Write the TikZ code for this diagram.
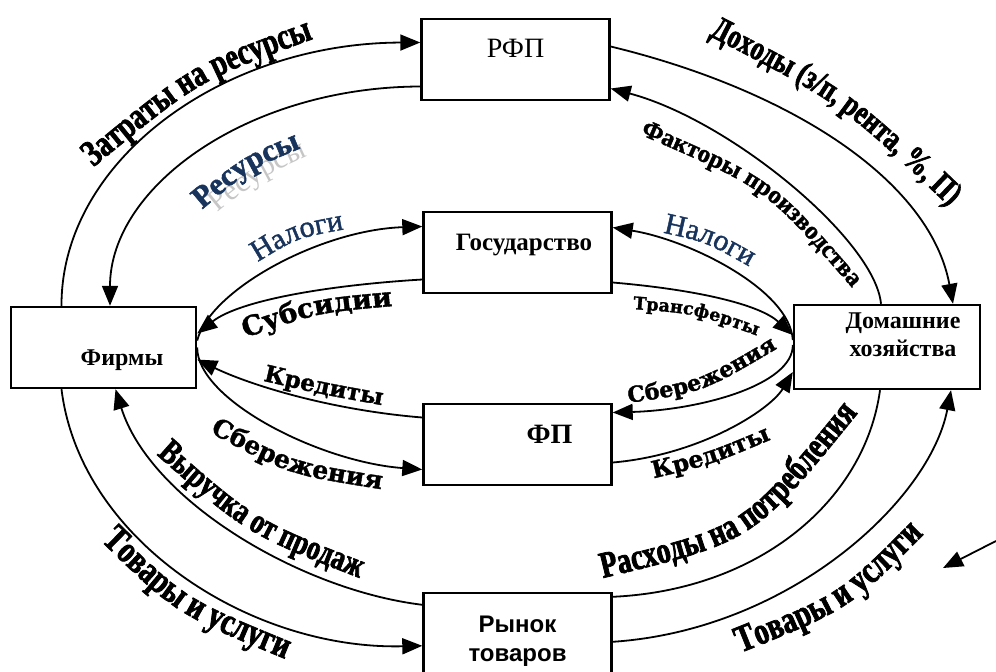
\documentclass[tikz,border=0pt]{standalone}
\usepackage{fontspec}
\setmainfont{Liberation Serif}
\newfontfamily\wafont[FakeStretch=0.76,BoldFeatures={FakeBold=2}]{Liberation Serif}
\newfontfamily\wcfont[BoldFeatures={FakeBold=1.6}]{Liberation Serif}
\newfontfamily\wnfont[FakeBold=1.4]{Liberation Serif}
\newfontfamily\wbfont[BoldFeatures={FakeBold=1.4}]{DejaVu Serif}
\newfontfamily\arialfont{Liberation Sans}
\usetikzlibrary{arrows.meta,calc,decorations.text}
\definecolor{navy}{RGB}{24,52,92}
% curved label: [colour]{start}{control}{end}{text}{font}
\newcommand{\wordart}[6][black]{{#6\path[decorate,decoration={text along path,text align=center,text color=#1,text={#5}}]
  ($(#2)!-30pt!(#3)$) -- (#2) .. controls (#3) .. (#4) -- ($(#4)!-30pt!(#3)$);}}

\begin{document}
\begin{tikzpicture}[x=1pt,y=-1pt,
  box/.style={draw,line width=2.4pt,inner sep=0pt,minimum width=188pt,minimum height=81pt},
  flow/.style={line width=1.8pt,-{Triangle[length=20pt,width=16pt]}},
  plain/.style={line width=1.8pt}]
\fill[white] (0,0) rectangle (996,672);
\useasboundingbox (0,0) rectangle (996,672);

% boxes
\node[box,font=\fontsize{28}{28}\selectfont,text height=20pt,text depth=25pt] (rfp) at (515.5,59.5) {РФП};
\node[box,font=\bfseries\fontsize{25}{25}\selectfont,text height=20pt,text depth=25pt] (gos) at (517.5,252.5) {\hspace*{13pt}Государство};
\node[box,minimum width=185pt,font=\bfseries\fontsize{24}{24}\selectfont,text height=40pt,text depth=5pt] (fir) at (103.5,347.5) {\hspace*{37pt}Фирмы};
\node[box,minimum width=186pt,minimum height=84pt,font=\bfseries\fontsize{24}{28}\selectfont,text height=30pt,text depth=38pt] (dh) at (887,347)
  {\hspace*{32pt}\begin{tabular}{@{}c@{}}Домашние\\хозяйства\end{tabular}};
\node[box,font=\bfseries\fontsize{28}{28}\selectfont,text height=20pt,text depth=23pt] (fp) at (517.5,444.5) {\hspace*{64pt}ФП};
\node[box,minimum height=107pt,font=\arialfont\bfseries\fontsize{24}{29}\selectfont,text height=40pt,text depth=38pt] (rt) at (517.5,646.5)
  {\begin{tabular}{@{}c@{}}Рынок\\товаров\end{tabular}};

% outer ring
\draw[flow] ([xshift=-42pt]fir.north) .. controls (61,161) and (222,43) .. ([yshift=17pt]rfp.west);
\draw[flow] ([yshift=-27pt]rfp.west) .. controls (249,87) and (110,186) .. ([xshift=6.5pt]fir.north);
\draw[flow] ([yshift=13pt]rfp.east) .. controls (790,90) and (930,180) .. ([xshift=66pt]dh.north);
\draw[flow] ([xshift=-6pt]dh.north) .. controls (875,240) and (730,120) .. ([yshift=-29pt]rfp.east);
% state
\draw[flow] ([yshift=7pt]fir.east) .. controls (210,290) and (320,230) .. ([yshift=26pt]gos.west);
\draw[flow] ([yshift=-27pt]gos.west) .. controls (330,285) and (240,300) .. ([yshift=14pt]fir.east);
\draw[flow] ([yshift=7pt]dh.west) .. controls (790,290) and (690,240) .. ([yshift=25pt]gos.east);
\draw[flow] ([yshift=-30pt]gos.east) .. controls (700,290) and (760,305) .. ([yshift=12pt]dh.west);
% finance
\draw[flow] ([yshift=27pt]fp.west) .. controls (330,410) and (250,385) .. ([yshift=-12pt]fir.east);
\draw[flow] (fir.east) .. controls (197,400) and (320,462) .. ([yshift=-25pt]fp.west);
\draw[flow] ([yshift=2pt]dh.west) .. controls (793,385) and (700,410) .. ([yshift=32pt]fp.east);
\draw[flow] ([yshift=-18pt]fp.east) .. controls (700,455) and (770,410) .. ([yshift=-25pt]dh.west);
% goods market
\draw[flow] ([yshift=-13pt]rt.north west) .. controls (300,590) and (150,500) .. ([xshift=12pt]fir.south);
\draw[flow] ([xshift=-42pt]fir.south) .. controls (80,540) and (250,650) .. ([yshift=-54pt]rt.north west);
\draw[plain] ([xshift=-7pt]dh.south) .. controls (865,500) and (760,590) .. ([yshift=-5pt]rt.north east);
\draw[flow] ([yshift=-50pt]rt.north east) .. controls (790,630) and (930,500) .. ([xshift=64pt]dh.south);
\coordinate (tail) at (996,541);
\coordinate (head) at (943,568);
\draw[flow] (tail) -- (head);

% labels
\wordart{96,165}{199,80.5}{310,40}{Затраты на ресурсы}{\wafont\bfseries\fontsize{37}{37}\selectfont}
\wordart[gray!45]{209,220}{260.2,178}{318,152}{Ресурсы}{\fontsize{30}{30}\selectfont}
\wordart[navy]{198,213}{249.3,169.5}{306,146}{Ресурсы}{\wcfont\bfseries\fontsize{31}{31}\selectfont}
\wordart{702,32}{841.2,103.3}{955,212}{Доходы (з/п, рента, {\%}, П)}{\wafont\bfseries\fontsize{34}{34}\selectfont}
\wordart{646,137}{765.7,188.7}{848,283}{Факторы производства}{\wcfont\bfseries\fontsize{25}{25}\selectfont}
\wordart[navy]{256,263}{297,238}{346,229}{Налоги}{\wnfont\fontsize{30}{30}\selectfont}
\wordart{245,338}{317.7,312.7}{393,306}{Субсидии}{\wbfont\bfseries\fontsize{27}{27}\selectfont}
\wordart[navy]{660,232}{706,242}{752,268}{Налоги}{\wnfont\fontsize{30}{30}\selectfont}
\wordart{632,309}{696.3,313.8}{758,336}{Трансферты}{\wbfont\bfseries\fontsize{17.5}{17.5}\selectfont}
\wordart{264,381}{321.8,394.3}{381,405}{Кредиты}{\wbfont\bfseries\fontsize{23}{23}\selectfont}
\wordart{211,433}{288.2,474.3}{380,489}{Сбережения}{\wbfont\bfseries\fontsize{25}{25}\selectfont}
\wordart{628,403}{703,392.2}{778,348}{Сбережения}{\wbfont\bfseries\fontsize{22}{22}\selectfont}
\wordart{655,478}{711.8,464.3}{770,440}{Кредиты}{\wbfont\bfseries\fontsize{23.5}{23.5}\selectfont}
\wordart{148,447}{245.7,533.8}{370,582}{Выручка от продаж}{\wafont\bfseries\fontsize{35}{35}\selectfont}
\wordart{95,535}{175.3,613.8}{293,662}{Товары и услуги}{\wafont\bfseries\fontsize{38}{38}\selectfont}
\wordart{603,578}{753.8,541.5}{858,413}{Расходы на потребления}{\wafont\bfseries\fontsize{37}{37}\selectfont}
\wordart{735,655}{849.5,609.2}{928,530}{Товары и услуги}{\wafont\bfseries\fontsize{38}{38}\selectfont}
\end{tikzpicture}
\end{document}
